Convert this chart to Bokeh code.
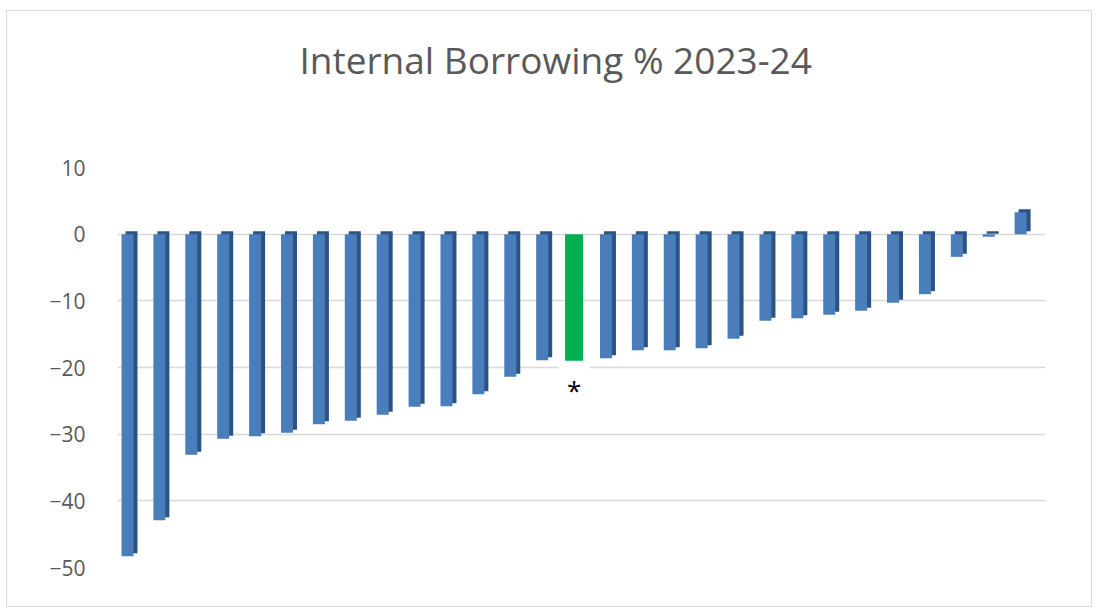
from bokeh.plotting import figure
from bokeh.models import ColumnDataSource, Range1d, Label, Title
from bokeh.transform import dodge
from bokeh.embed import file_html
from bokeh.resources import INLINE

# ---- data ----
title_text = "Internal Borrowing % 2023-24"
values = [-48.3, -42.9, -33.1, -30.7, -30.3, -29.8, -28.5, -28.0, -27.1, -25.9,
          -25.8, -24.0, -21.4, -18.9, -19.0, -18.6, -17.4, -17.4, -17.1, -15.7,
          -13.0, -12.6, -12.1, -11.5, -10.3, -9.0, -3.4, -0.4, 3.3]
highlight_index = 14
highlight_label = "*"
y_ticks = [-50, -40, -30, -20, -10, 0, 10]

# ---- derived sources ----
PX = 31.89           # pixels per category step
PY = 6.667           # pixels per y unit
DEPTH_X = 4 / PX     # 3D side depth (data units)
DEPTH_Y = 3 / PY     # 3D top depth (data units)

idx = list(range(len(values)))
blue_x = [i for i in idx if i != highlight_index]
blue_v = [values[i] for i in blue_x]
blue = ColumnDataSource(dict(
    x=blue_x,
    top=[max(v, 0) for v in blue_v],
    bottom=[min(v, 0) for v in blue_v],
    btop=[max(v, 0) + DEPTH_Y for v in blue_v],
    bbottom=[min(v, 0) + DEPTH_Y for v in blue_v],
))
green = ColumnDataSource(dict(
    x=[highlight_index],
    top=[max(values[highlight_index], 0)],
    bottom=[min(values[highlight_index], 0)],
))

p = figure(width=1086, height=597, output_backend="svg", toolbar_location=None,
           x_range=Range1d(-0.314, 28.78), y_range=Range1d(-50, 10),
           min_border_left=110, min_border_right=48, min_border_top=156,
           min_border_bottom=41)
p.margin = (10, 2, 0, 6)
p.styles = {"border": "1px solid #D9D9D9"}
p.outline_line_color = None
p.background_fill_color = "white"
p.border_fill_color = "white"

# spacer between frame and title, then the title itself
p.add_layout(Title(text=" ", text_font_size="10px", standoff=70), "above")
p.add_layout(Title(text=title_text, align="left", offset=182, standoff=0,
                   text_font="Open Sans", text_font_size="37px",
                   text_font_style="normal", text_color="#595959"), "above")

# back/side face of 3D bars
p.vbar(x=dodge("x", DEPTH_X, range=p.x_range), top="btop", bottom="bbottom",
       width=12 / PX, source=blue, fill_color="#2B5485", line_color=None)
# front face
p.vbar(x="x", top="top", bottom="bottom", width=12 / PX, source=blue,
       fill_color="#4A7EBB", line_color=None)
# highlighted bar
p.vbar(x="x", top="top", bottom="bottom", width=18 / PX, source=green,
       fill_color="#00B050", line_color=None)

p.add_layout(Label(x=highlight_index, y=values[highlight_index], text=highlight_label,
                   text_align="center", text_baseline="alphabetic", y_offset=-29,
                   text_font="Open Sans", text_font_size="26px", text_color="black",
                   background_fill_color="white", padding=8))

p.xaxis.visible = False
p.xgrid.visible = False
p.yaxis.ticker = y_ticks
p.yaxis.axis_line_color = None
p.yaxis.major_tick_line_color = None
p.yaxis.minor_tick_line_color = None
p.yaxis.major_label_standoff = 26
p.yaxis.major_label_text_font = "Open Sans"
p.yaxis.major_label_text_font_size = "21px"
p.yaxis.major_label_text_color = "#595959"
p.ygrid.ticker = y_ticks
p.ygrid.grid_line_color = "#D9D9D9"
p.ygrid.grid_line_width = 1.5

open("out.html", "w").write(file_html(p, INLINE))
